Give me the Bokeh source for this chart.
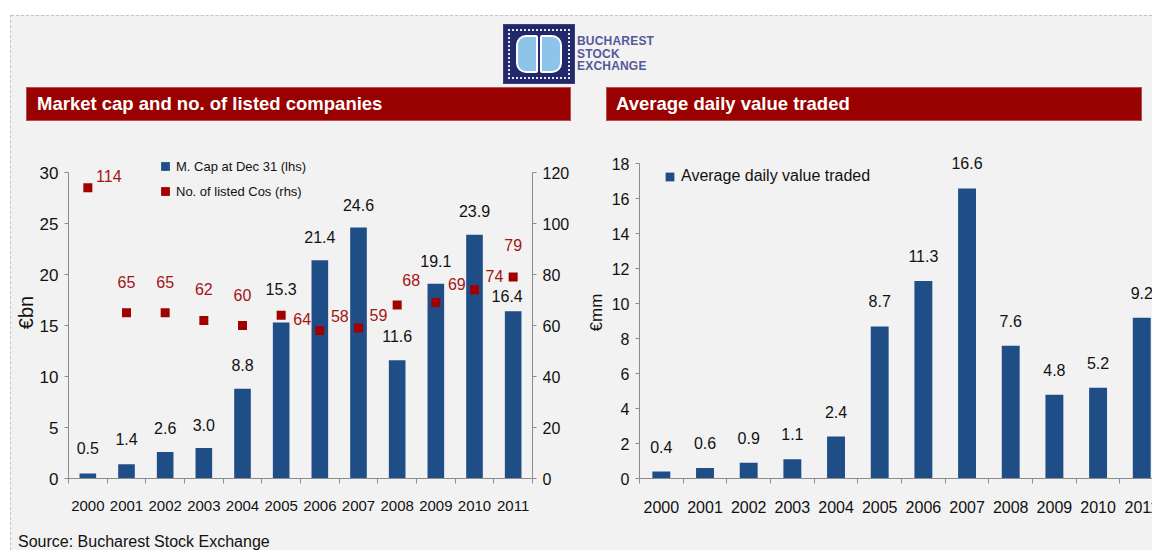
from bokeh.plotting import figure
from bokeh.models import (ColumnDataSource, Range1d, LinearAxis, FixedTicker,
                          LabelSet, Legend, LegendItem, Div)
from bokeh.layouts import row, column
from bokeh.core.properties import value
from bokeh.embed import file_html
from bokeh.resources import INLINE

# ---------------- data ----------------
years = ["2000", "2001", "2002", "2003", "2004", "2005",
         "2006", "2007", "2008", "2009", "2010", "2011"]
market_cap_bn = [0.5, 1.4, 2.6, 3.0, 8.8, 15.3, 21.4, 24.6, 11.6, 19.1, 23.9, 16.4]
listed_companies = [114, 65, 65, 62, 60, 64, 58, 59, 68, 69, 74, 79]
avg_daily_value_mm = [0.4, 0.6, 0.9, 1.1, 2.4, 8.7, 11.3, 16.6, 7.6, 4.8, 5.2, 9.2]
lhs_ticks = [0, 5, 10, 15, 20, 25, 30]
rhs_ticks = [0, 20, 40, 60, 80, 100, 120]
adv_ticks = [0, 2, 4, 6, 8, 10, 12, 14, 16, 18]

# label placement (styling, pixels)
cap_label_dx = [0, 0, 0, 0, 0, 0, 0, 0, 0, 0, 0, -6]
cap_label_dy = [25, 25, 24, 23, 24, 33, 23, 23, 24, 23, 24, 15]
cos_label_dx = [21, 0, 0, 0, 0, 21, 20, 20, 14, 21, 20, 0]
cos_label_dy = [12, 31, 31, 31, 31, -4, 15, 13, 25, 19, 14, 32]
adv_label_dy = [25] * len(years)

BG = "#f2f2f2"
BLUE = "#1f4e87"
RED = "#a00000"
RED_TXT = "#a31515"
AXIS = "#8c8c8c"
TXT = "#111111"
FONT = "Liberation Sans"

n = len(years)
centers = [i + 0.5 for i in range(n)]
edges = list(range(n + 1))

# axis tops and extra headroom (pixels) kept inside the frame for labels/legends
LHS_MAX, RHS_MAX, ADV_MAX = 30, 120, 18
LEFT_PLOT_PX, LEFT_HEAD_PX = 306, 26
RIGHT_PLOT_PX, RIGHT_HEAD_PX = 324, 18
lhs_end = LHS_MAX * (1 + LEFT_HEAD_PX / LEFT_PLOT_PX)
rhs_end = RHS_MAX * (1 + LEFT_HEAD_PX / LEFT_PLOT_PX)
adv_end = ADV_MAX * (1 + RIGHT_HEAD_PX / RIGHT_PLOT_PX)
# right chart runs past the page edge (cut off like the original)
RIGHT_W, RIGHT_FRAME_VISIBLE, RIGHT_X_VISIBLE = 584, 519, 11.75
right_x_end = RIGHT_X_VISIBLE * (RIGHT_W - 50) / RIGHT_FRAME_VISIBLE

src1 = ColumnDataSource(dict(
    x=centers, cap=market_cap_bn, cos=listed_companies,
    cap_txt=[f"{v:.1f}" for v in market_cap_bn],
    cos_txt=[str(v) for v in listed_companies],
    cap_dx=cap_label_dx, cap_dy=cap_label_dy,
    cos_dx=cos_label_dx, cos_dy=cos_label_dy))
src2 = ColumnDataSource(dict(
    x=centers, adv=avg_daily_value_mm,
    adv_txt=[f"{v:.1f}" for v in avg_daily_value_mm],
    adv_dy=adv_label_dy))


def base_fig(width, height, x_end, y_end, mbl, mbr, mbt, mbb):
    p = figure(width=width, height=height,
               x_range=Range1d(0, x_end), y_range=Range1d(0, y_end),
               output_backend="svg", toolbar_location=None,
               min_border_left=mbl, min_border_right=mbr,
               min_border_top=mbt, min_border_bottom=mbb,
               background_fill_color=BG, border_fill_color=BG,
               outline_line_color=None, styles={"background-color": BG})
    p.grid.visible = False
    return p


def style_y(ax, ticks, size, standoff, top):
    ax.ticker = FixedTicker(ticks=ticks)
    ax.bounds = (0, top)
    ax.axis_line_color = AXIS
    ax.major_tick_line_color = AXIS
    ax.minor_tick_line_color = None
    ax.major_tick_out = 4
    ax.major_tick_in = 0
    ax.major_label_text_font = FONT
    ax.major_label_text_font_size = size
    ax.major_label_text_color = TXT
    ax.major_label_standoff = standoff


def style_x(ax, size, standoff):
    ax.ticker = FixedTicker(ticks=centers, minor_ticks=edges)
    ax.major_label_overrides = {c: y for c, y in zip(centers, years)}
    ax.axis_line_color = AXIS
    ax.major_tick_line_color = None
    ax.major_tick_out = 0
    ax.major_tick_in = 0
    ax.minor_tick_line_color = AXIS
    ax.minor_tick_out = 5
    ax.minor_tick_in = 0
    ax.major_label_text_font = FONT
    ax.major_label_text_font_size = size
    ax.major_label_text_color = TXT
    ax.major_label_standoff = standoff


# ---------------- left chart ----------------
p1 = base_fig(572, 405, n, lhs_end, 51, 51, 51 - LEFT_HEAD_PX, 48)
p1.extra_y_ranges = {"rhs": Range1d(0, rhs_end)}
bars1 = p1.vbar(x="x", top="cap", width=0.43, source=src1,
                fill_color=BLUE, line_color=None)
pts = p1.scatter(x="x", y="cos", y_range_name="rhs", marker="square", size=9,
                 source=src1, fill_color=RED, line_color=None)
# hidden square-marker twin of the bars, used only for the legend key
cap_key = p1.scatter(x="x", y="cap", source=src1, marker="square", size=9,
                     fill_color=BLUE, line_color=None, visible=False)

style_y(p1.yaxis[0], lhs_ticks, "17px", 6, LHS_MAX)
p1.yaxis[0].axis_label = "€bn"
p1.yaxis[0].axis_label_text_font = FONT
p1.yaxis[0].axis_label_text_font_size = "20px"
p1.yaxis[0].axis_label_text_font_style = "normal"
p1.yaxis[0].axis_label_text_color = TXT
p1.yaxis[0].axis_label_standoff = 0
style_x(p1.xaxis[0], "15px", 17)

rax = LinearAxis(y_range_name="rhs")
style_y(rax, rhs_ticks, "16px", 6, RHS_MAX)
p1.add_layout(rax, "right")

p1.add_layout(LabelSet(x="x", y="cap", text="cap_txt", source=src1,
                       x_offset="cap_dx", y_offset="cap_dy",
                       text_align="center", text_baseline="middle",
                       text_font=value(FONT), text_font_size="16px",
                       text_color=TXT))
p1.add_layout(LabelSet(x="x", y="cos", text="cos_txt", source=src1,
                       y_range_name="rhs",
                       x_offset="cos_dx", y_offset="cos_dy",
                       text_align="center", text_baseline="middle",
                       text_font=value(FONT), text_font_size="16px",
                       text_color=RED_TXT))

leg1 = Legend(items=[LegendItem(label="M. Cap at Dec 31 (lhs)", renderers=[cap_key]),
                     LegendItem(label="No. of listed Cos (rhs)", renderers=[pts])],
              location=(86, 276), orientation="vertical",
              glyph_width=22, glyph_height=22, label_height=22,
              label_standoff=0, spacing=3, padding=0, margin=0,
              border_line_color=None, background_fill_alpha=0,
              inactive_fill_alpha=0,
              label_text_font=FONT, label_text_font_size="13px",
              label_text_color=TXT)
p1.add_layout(leg1)

# ---------------- right chart ----------------
p2 = base_fig(RIGHT_W, 405, right_x_end, adv_end, 50, 0, 35 - RIGHT_HEAD_PX, 46)
bars2 = p2.vbar(x="x", top="adv", width=0.41, source=src2,
                fill_color=BLUE, line_color=None)
style_y(p2.yaxis[0], adv_ticks, "16px", 6, ADV_MAX)
p2.yaxis[0].axis_label = "€mm"
p2.yaxis[0].axis_label_text_font = FONT
p2.yaxis[0].axis_label_text_font_size = "17px"
p2.yaxis[0].axis_label_text_font_style = "normal"
p2.yaxis[0].axis_label_text_color = TXT
p2.yaxis[0].axis_label_standoff = 3
style_x(p2.xaxis[0], "16px", 17)

p2.add_layout(LabelSet(x="x", y="adv", text="adv_txt", source=src2,
                       y_offset="adv_dy",
                       text_align="center", text_baseline="middle",
                       text_font=value(FONT), text_font_size="16px",
                       text_color=TXT))

leg2 = Legend(items=[LegendItem(label="Average daily value traded", renderers=[bars2])],
              location=(25, 291), orientation="vertical",
              glyph_width=11, glyph_height=11, label_height=22,
              label_standoff=6, spacing=0, padding=0, margin=0,
              border_line_color=None, background_fill_alpha=0,
              label_text_font=FONT, label_text_font_size="16px",
              label_text_color=TXT)
p2.add_layout(leg2)

# ---------------- HTML pieces ----------------
title_style = ("position:absolute;top:87px;height:34px;box-sizing:border-box;"
               "background:#990000;border:1px solid #b85050;color:#ffffff;"
               f"font-family:'{FONT}';font-weight:bold;font-size:18.5px;"
               "line-height:32px;white-space:nowrap;")
header_html = f"""
<div style="position:relative;width:1141px;height:121px;background:{BG};overflow:hidden;">
  <div style="position:absolute;left:0;top:0;width:1141px;height:15px;background:#ffffff;"></div>
  <div style="position:absolute;left:0;top:15px;width:1141px;height:0;border-top:1px dashed #c4c4c4;"></div>
  <div style="position:absolute;left:492px;top:24px;width:72px;height:60px;background:#23286a;box-sizing:border-box;border:1px solid #3b3f80;">
    <div style="position:absolute;left:4px;top:4px;width:62px;height:50px;border:2px dotted #dfe6f5;box-sizing:border-box;"></div>
    <div style="position:absolute;left:12px;top:10px;width:22px;height:38px;background:#8fc4ea;border:2px solid #ffffff;border-radius:10px 2px 2px 10px;box-sizing:border-box;"></div>
    <div style="position:absolute;left:36px;top:10px;width:22px;height:38px;background:#8fc4ea;border:2px solid #ffffff;border-radius:2px 10px 10px 2px;box-sizing:border-box;"></div>
  </div>
  <div style="position:absolute;left:566px;top:35px;font-family:'{FONT}';font-weight:bold;font-size:12px;line-height:12.5px;color:#55599a;letter-spacing:0.2px;">BUCHAREST<br>STOCK<br>EXCHANGE</div>
  <div style="{title_style}left:15px;width:545px;padding-left:10px;">Market cap and no. of listed companies</div>
  <div style="{title_style}left:595px;width:536px;padding-left:9px;">Average daily value traded</div>
</div>
"""
header = Div(text=header_html, width=1141, height=121, margin=0)

strip_html = """
<div style="position:relative;width:11px;height:550px;background:#ffffff;">
  <div style="position:absolute;left:10px;top:15px;width:1px;height:535px;background:#f2f2f2;"></div>
  <div style="position:absolute;left:10px;top:15px;width:0;height:535px;border-left:1px dashed #c4c4c4;"></div>
</div>
"""
strip = Div(text=strip_html, width=11, height=550, margin=0)

source_html = f"""
<div style="width:1141px;height:24px;background:{BG};box-sizing:border-box;padding:8px 0 0 7px;
font-family:'{FONT}';font-size:16px;line-height:16px;color:#111111;white-space:nowrap;">Source: Bucharest Stock Exchange</div>
"""
source = Div(text=source_html, width=1141, height=24, margin=0)

charts = row(p1, p2, spacing=0, styles={"background-color": BG})
main = column(header, charts, source, spacing=0, width=1141, height=550,
              styles={"background-color": BG, "overflow": "hidden"})
root = row(strip, main, spacing=0, width=1152, height=550,
           styles={"overflow": "hidden"})

open("out.html", "w").write(file_html(root, INLINE))
